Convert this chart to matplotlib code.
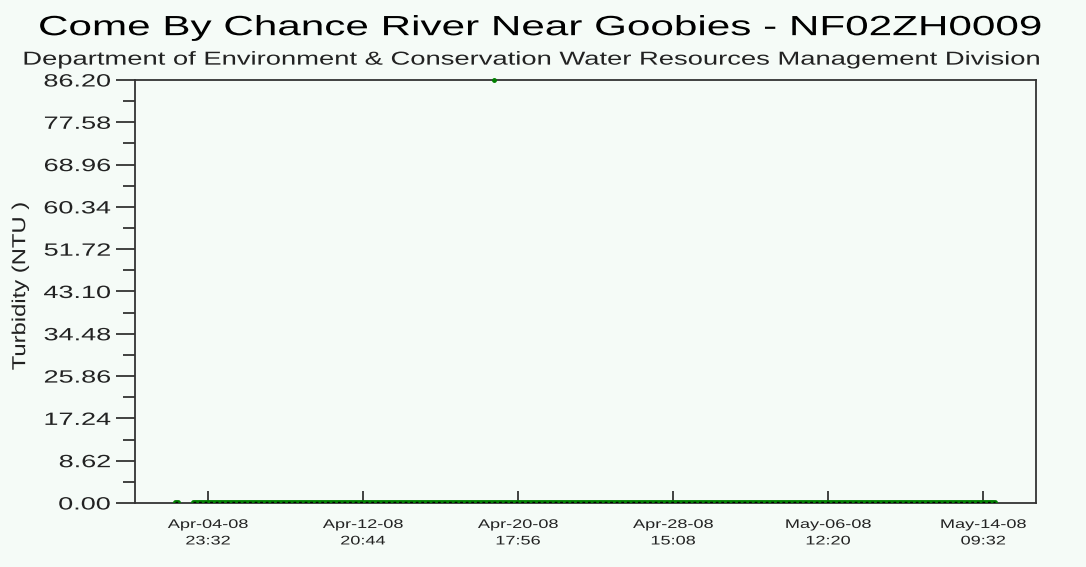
import matplotlib
matplotlib.use("Agg")
import matplotlib.pyplot as plt
import matplotlib.dates as mdates
import matplotlib.patheffects as pe
from matplotlib.transforms import Affine2D
from datetime import datetime

plt.rcParams['font.family'] = ['Liberation Sans', 'DejaVu Sans']

title = "Come By Chance River Near Goobies - NF02ZH0009"
subtitle = "Department of Environment & Conservation Water Resources Management Division"
ylabel = "Turbidity (NTU )"

# Observation segments (start, end, turbidity value)
seg_starts = ["2008-04-03 07:30", "2008-04-04 05:20"]
seg_ends = ["2008-04-03 10:30", "2008-05-15 00:00"]
seg_values = [0.3, 0.3]

# Isolated high reading
spike_time = ["2008-04-19 12:00"]
spike_value = [86.2]

xtick_times = ["2008-04-04 23:32", "2008-04-12 20:44", "2008-04-20 17:56",
               "2008-04-28 15:08", "2008-05-06 12:20", "2008-05-14 09:32"]
xtick_labels = ["Apr-04-08\n23:32", "Apr-12-08\n20:44", "Apr-20-08\n17:56",
                "Apr-28-08\n15:08", "May-06-08\n12:20", "May-14-08\n09:32"]
ytick_values = [0.00, 8.62, 17.24, 25.86, 34.48, 43.10, 51.72, 60.34, 68.96, 77.58, 86.20]

xlim = ["2008-04-01 06:30", "2008-05-17 02:00"]


def d(s):
    return datetime.strptime(s, "%Y-%m-%d %H:%M")


class Stretch(pe.AbstractPathEffect):
    """Widen glyphs along the text direction (the reference uses a wide font)."""
    def __init__(self, factor, anchor="center", axis="x"):
        super().__init__()
        self.factor = factor
        self.anchor = anchor
        self.axis = axis

    def draw_path(self, renderer, gc, tpath, affine, rgbFace=None):
        bb = tpath.get_extents(affine)
        if self.axis == "x":
            if self.anchor == "right":
                c = bb.x1
            elif self.anchor == "left":
                c = bb.x0
            else:
                c = (bb.x0 + bb.x1) / 2
            t = Affine2D().translate(-c, 0).scale(self.factor, 1).translate(c, 0)
        else:
            c = (bb.y0 + bb.y1) / 2
            t = Affine2D().translate(0, -c).scale(1, self.factor).translate(0, c)
        renderer.draw_path(gc, tpath, affine + t, rgbFace)


bg = "#F5FBF7"
fig = plt.figure(figsize=(10.86, 5.67), dpi=100, facecolor=bg)
ax = fig.add_axes([0.1243, 0.1129, 0.8297, 0.746])
ax.set_facecolor(bg)

for s, e, v in zip(seg_starts, seg_ends, seg_values):
    xs = [mdates.date2num(d(s)), mdates.date2num(d(e))]
    ax.plot(xs, [v, v], color="#008000", lw=3.5, solid_capstyle="round", zorder=3)
    ax.plot(xs, [v, v], color="black", lw=1.0, ls=(0, (2, 2)), zorder=4)

ax.plot([mdates.date2num(d(t)) for t in spike_time], spike_value, 'o',
        color="#008000", ms=2.5, zorder=5, clip_on=False)

ax.set_xlim(mdates.date2num(d(xlim[0])), mdates.date2num(d(xlim[1])))
ax.set_ylim(0, 86.20)

ax.set_xticks([mdates.date2num(d(t)) for t in xtick_times])
ax.set_xticklabels(xtick_labels, fontsize=9, linespacing=1.5)
ax.set_yticks(ytick_values)
ax.set_yticklabels([f"{v:.2f}" for v in ytick_values], fontsize=12.8)
ax.set_yticks([(a + b) / 2 for a, b in zip(ytick_values[:-1], ytick_values[1:])], minor=True)

ax.tick_params(axis='y', which='major', direction='out', length=14, width=1.2, pad=3.5, colors='#222222')
ax.tick_params(axis='y', which='minor', direction='out', length=9, width=1.2, colors='#222222')
ax.tick_params(axis='x', which='major', direction='in', length=8.5, width=1.2, pad=11.5, colors='#222222')

for lab in ax.get_yticklabels():
    lab.set_path_effects([Stretch(1.52, "right")])
for lab in ax.get_xticklabels():
    lab.set_path_effects([Stretch(1.45, "center")])

for sp in ax.spines.values():
    sp.set_color('#333333')
    sp.set_linewidth(1.3)

yl = fig.text(0.019, 0.495, ylabel, rotation=90, ha='center', va='center',
              fontsize=13.5, color='#222222')
yl.set_path_effects([Stretch(1.27, axis="y")])

t1 = fig.text(0.497, 0.938, title, ha='center', va='baseline', fontsize=20, color='black')
t1.set_path_effects([Stretch(1.52)])
t2 = fig.text(0.489, 0.886, subtitle, ha='center', va='baseline', fontsize=13.5, color='#222222')
t2.set_path_effects([Stretch(1.46)])

fig.savefig("out.png", dpi=100, facecolor=bg)
